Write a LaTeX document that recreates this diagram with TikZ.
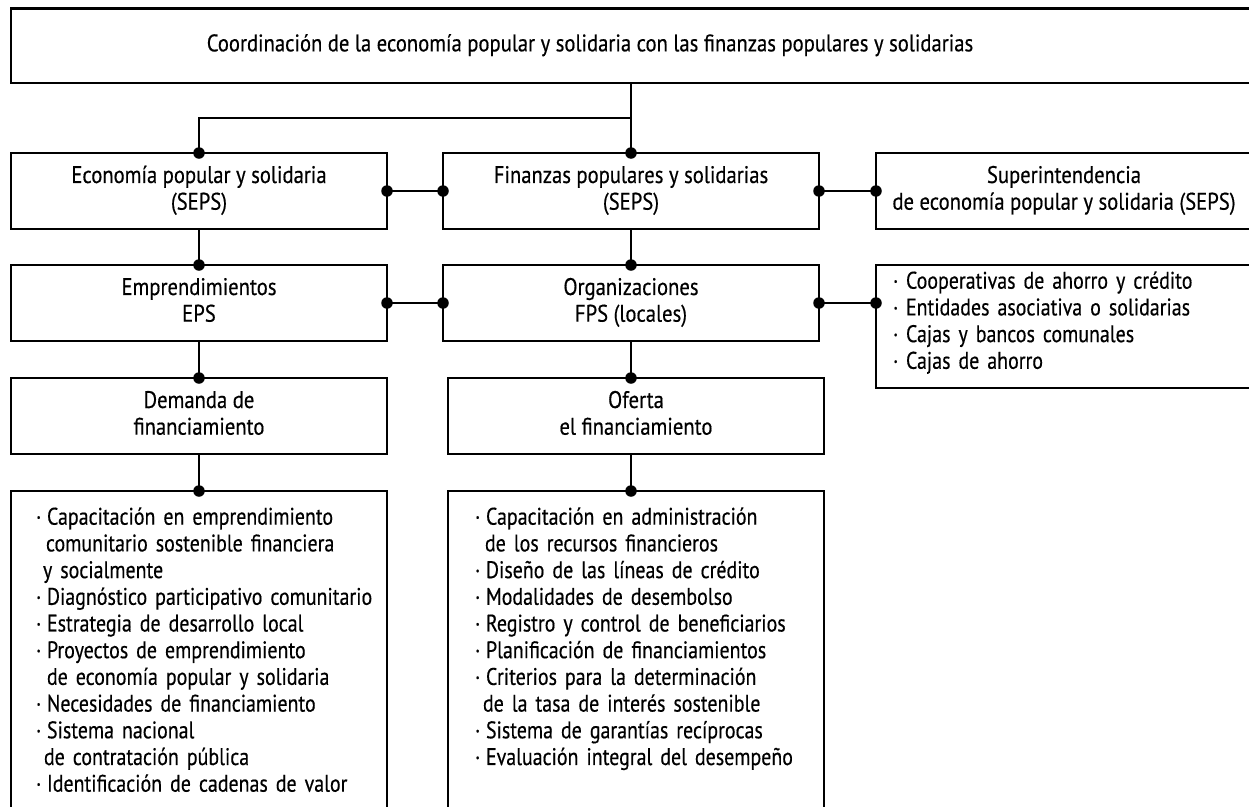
\documentclass[tikz,border=0pt]{standalone}
\usepackage{fontspec}
\setmainfont{PT Sans}[FakeStretch=0.86,FakeBold=0.4]
\newfontfamily\listfont{PT Sans}[FakeStretch=0.83,FakeBold=0.4]
\usetikzlibrary{calc}
\newcommand\bul[1][11pt]{\makebox[#1][l]{·}}
\begin{document}
\begin{tikzpicture}[x=1pt,y=-1pt,
  txt/.style={font=\fontsize{24}{26.7}\selectfont, inner sep=0pt, outer sep=0pt},
  box/.style={txt, draw, line width=2.8pt, rectangle, align=center, anchor=north west, minimum width=376pt, minimum height=76pt},
  lst/.style={font=\listfont\fontsize{24}{26.7}\selectfont, inner sep=0pt, outer sep=0pt, align=left, text width=380pt, anchor=north west},
  dot/.style={circle, fill, inner sep=0pt, minimum size=11.5pt},
  conn/.style={line width=2.8pt}]
\useasboundingbox (0,0) rectangle (1249,806);
\clip (0,0) rectangle (1249,806);
\fill[white] (0,0) rectangle (1249,806);

% top
\node[box, minimum width=1241pt, minimum height=74.5pt] (top) at (11,8.5) {};
\node[txt] (toptxt) at (590,46) {\strut Coordinación de la economía popular y solidaria con las finanzas populares y solidarias};

% level 1
\node[box] (eps) at (11,153) {\strut Economía popular y solidaria\\(SEPS)\strut};
\node[box] (fps) at (443,153) {\strut Finanzas populares y solidarias\\(SEPS)\strut};
\node[box] (sup) at (876,153) {\strut Superintendencia\\de economía popular y solidaria (SEPS)\strut};

% level 2
\node[box] (emp) at (11,265) {\strut Emprendimientos\\EPS\strut};
\node[box] (org) at (443,265) {\strut Organizaciones\\FPS (locales)\strut};
\node[box, minimum height=123pt] (coop) at (876,265) {};
\node[lst] (coopl) at (893,270) {\strut\bul[13pt]Cooperativas de ahorro y crédito\\
\bul[13pt]Entidades asociativa o solidarias\\
\bul[13pt]Cajas y bancos comunales\\
\bul[13pt]Cajas de ahorro};

% level 3
\node[box] (dem) at (11,378) {\strut Demanda de\\financiamiento\strut};
\node[box] (ofe) at (448,378) {\strut Oferta\\el financiamiento\strut};

% level 4
\node[box, minimum height=340pt] (act) at (11,491) {};
\node[box, minimum height=340pt] (ofl) at (448,491) {};
\node[lst] (actl) at (36,506) {\strut\bul Capacitación en emprendimiento\\
\hspace*{10pt}comunitario sostenible financiera\\
\hspace*{7pt}y socialmente\\
\bul Diagnóstico participativo comunitario\\
\bul Estrategia de desarrollo local\\
\bul Proyectos de emprendimiento\\
\hspace*{11pt}de economía popular y solidaria\\
\bul Necesidades de financiamiento\\
\bul Sistema nacional\\
\hspace*{8pt}de contratación pública\\
\bul Identificación de cadenas de valor};
\node[lst] (ofll) at (475,506) {\strut\bul Capacitación en administración\\
\hspace*{10pt}de los recursos financieros\\
\bul Diseño de las líneas de crédito\\
\bul Modalidades de desembolso\\
\bul Registro y control de beneficiarios\\
\bul Planificación de financiamientos\\
\bul Criterios para la determinación\\
\hspace*{8pt}de la tasa de interés sostenible\\
\bul Sistema de garantías recíprocas\\
\bul Evaluación integral del desempeño};

% connectors
\coordinate (trunk) at (top.south -| fps.north);
\coordinate (br) at ($(trunk)!0.5!(fps.north)$);
\draw[conn] (trunk) -- (fps.north);
\draw[conn] (br) -| (eps.north);
\node[dot] (d1) at (fps.north) {};
\node[dot] (d2) at (eps.north) {};

\draw[conn] (eps.east) -- (fps.west);
\node[dot] (d3) at (eps.east) {};
\node[dot] (d4) at (fps.west) {};
\draw[conn] (fps.east) -- (sup.west);
\node[dot] (d5) at (fps.east) {};
\node[dot] (d6) at (sup.west) {};

\draw[conn] (eps.south) -- (emp.north);
\node[dot] (d7) at (emp.north) {};
\draw[conn] (fps.south) -- (org.north);
\node[dot] (d8) at (org.north) {};

\draw[conn] (emp.east) -- (org.west);
\node[dot] (d9) at (emp.east) {};
\node[dot] (d10) at (org.west) {};
\coordinate (coopin) at (org.east -| coop.west);
\draw[conn] (org.east) -- (coopin);
\node[dot] (d11) at (org.east) {};
\node[dot] (d12) at (coopin) {};

\draw[conn] (emp.south) -- (dem.north);
\node[dot] (d13) at (dem.north) {};
\coordinate (ofein) at (org.south |- ofe.north);
\draw[conn] (org.south) -- (ofein);
\node[dot] (d14) at (ofein) {};

\draw[conn] (dem.south) -- (act.north);
\node[dot] (d15) at (act.north) {};
\coordinate (ofeout) at (ofe.south -| org.south);
\coordinate (oflin) at (ofl.north -| org.south);
\draw[conn] (ofeout) -- (oflin);
\node[dot] (d16) at (oflin) {};
\end{tikzpicture}
\end{document}
